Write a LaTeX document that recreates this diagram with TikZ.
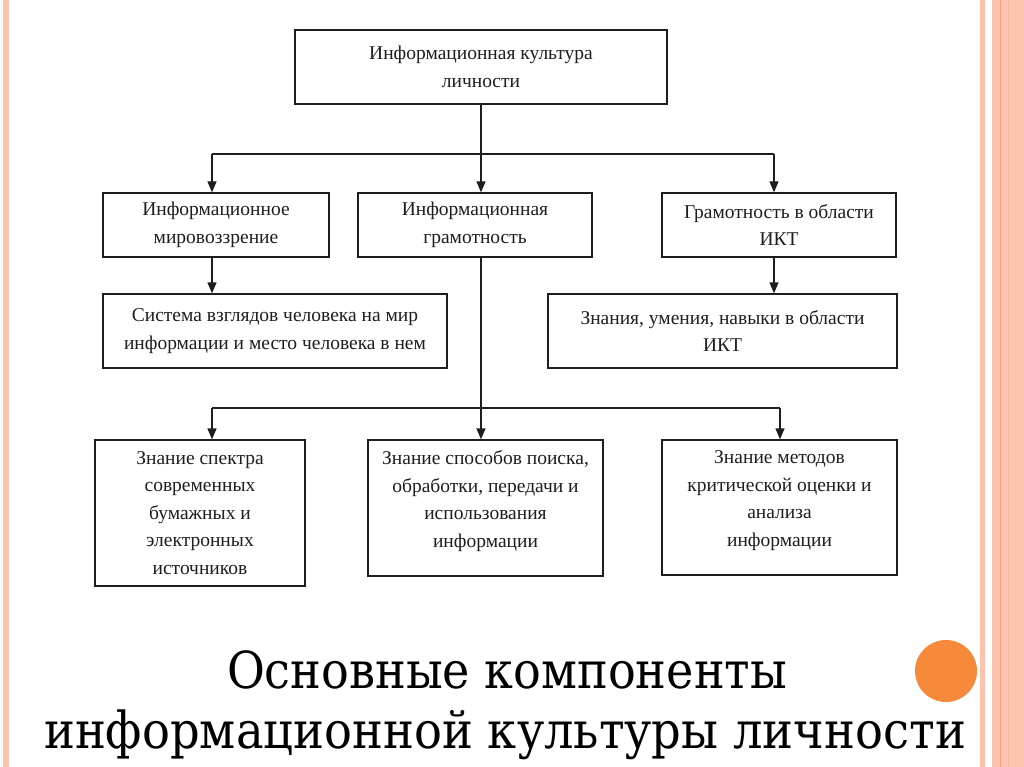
\documentclass[tikz,border=0pt]{standalone}
\usepackage{fontspec}
\setmainfont{Liberation Serif}
\newfontfamily\titlefont{DejaVu Serif}
\usetikzlibrary{arrows.meta}
\definecolor{stripe}{HTML}{FCC4AE}
\definecolor{stripedark}{HTML}{F4A27E}
\definecolor{dot}{HTML}{F78A3A}
\definecolor{ink}{HTML}{1E1E1E}
\tikzset{
  box/.style={draw=ink, line width=1.3pt, inner sep=0pt, align=center,
    font=\fontsize{19.5}{27.5}\selectfont, text=ink},
  link/.style={draw=ink, line width=1.3pt},
  arr/.style={link, -{Triangle[length=11pt,width=9pt]}},
  ttl/.style={font=\titlefont\fontsize{51}{62}\selectfont, text=black, inner sep=0pt, anchor=base}
}
\begin{document}
\begin{tikzpicture}[x=1pt,y=-1pt]
\useasboundingbox (0,0) rectangle (1024,767);
\fill[white] (0,0) rectangle (1024,767);
% decorative stripes
\fill[stripe] (3,0) rectangle (9,767);
\fill[stripe] (980,0) rectangle (985,767);
\fill[stripe] (992,0) rectangle (1024,767);
\fill[stripedark] (999.5,0) rectangle (1001,767);
\fill[stripedark!50!stripe] (1007.5,0) rectangle (1008.5,767);
\fill[dot] (946,671) circle (31);

% boxes
\node[box, minimum width=372pt, minimum height=74pt] (top) at (481,67) {Информационная культура\\личности};
\node[box, minimum width=226pt, minimum height=64pt] (mirov) at (216,225) {Информационное\\мировоззрение};
\node[box, minimum width=234pt, minimum height=64pt] (gram) at (475,225) {Информационная\\грамотность};
\node[box, minimum width=234pt, minimum height=64pt] (ikt) at (779,225) {Грамотность в области\\ИКТ};
\node[box, minimum width=344pt, minimum height=74pt] (sys) at (275,331) {Система взглядов человека на мир\\информации и место человека в нем};
\node[box, minimum width=349pt, minimum height=74pt] (zn) at (722.5,331) {Знания, умения, навыки в области\\ИКТ};
\node[box, minimum width=210pt, minimum height=146pt] (bl) at (200,513) {Знание спектра\\современных\\бумажных и\\электронных\\источников};
\node[box, minimum width=235pt, minimum height=136pt] (bm) at (485.5,508) {Знание способов поиска,\\обработки, передачи и\\использования\\информации\\[-10pt]};
\node[box, minimum width=235pt, minimum height=135pt] (br) at (779.5,507.5) {Знание методов\\критической оценки и\\анализа\\информации\\[-10pt]};

% junctions
\coordinate (j1) at (212,154);
\coordinate (j2) at (774,154);
\coordinate (m) at (481,408);
\coordinate (l2) at (212,408);
\coordinate (r2) at (780,408);

% connectors
\draw[arr] (top.south) -- (top.south |- gram.north);
\draw[link] (j1) -- (j2);
\draw[arr] (j1) -- (j1 |- mirov.north);
\draw[arr] (j2) -- (j2 |- ikt.north);
\draw[arr] (mirov.south -| j1) -- (j1 |- sys.north);
\draw[arr] (ikt.south -| j2) -- (j2 |- zn.north);
\draw[link] (gram.south -| m) -- (m);
\draw[link] (l2) -- (r2);
\draw[arr] (m) -- (m |- bm.north);
\draw[arr] (l2) -- (l2 |- bl.north);
\draw[arr] (r2) -- (r2 |- br.north);

% title
\node[ttl] (t1) at (507,688) {\scalebox{0.905}[1]{Основные компоненты}};
\node[ttl] (t2) at (505,748) {\scalebox{0.91}[1]{информационной культуры личности}};
\end{tikzpicture}
\end{document}
